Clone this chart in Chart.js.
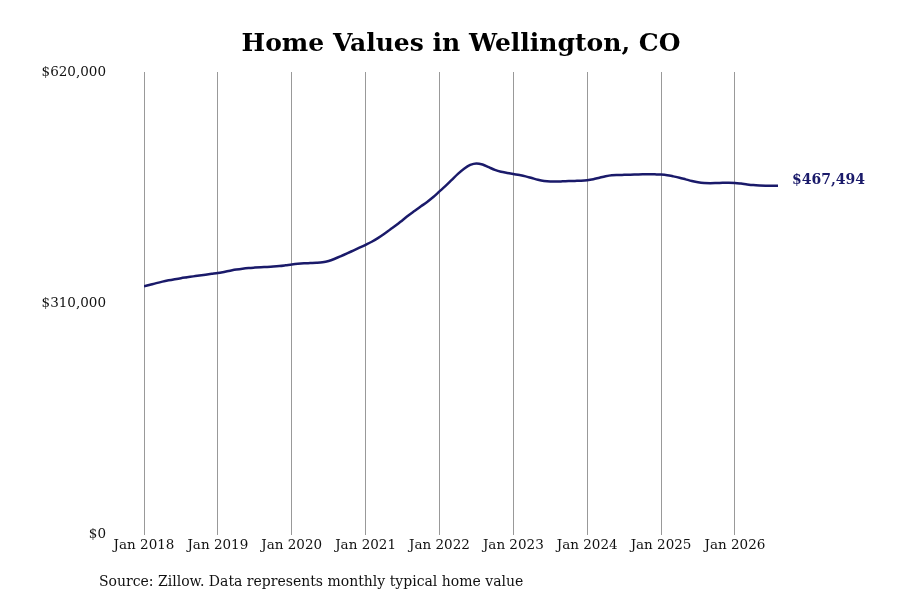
<!DOCTYPE html>
<html>
<head>
<meta charset="utf-8">
<script src="https://cdn.jsdelivr.net/npm/chart.js@4/dist/chart.umd.min.js"></script>
<style>
    html, body { margin: 0; padding: 0; background: #fff; }
    #wrap { width: 900px; height: 600px; }
</style>
</head>
<body>
<div id="wrap"><canvas id="homeValues"></canvas></div>
<script>
const title = 'Home Values in Wellington, CO';
const source = 'Source: Zillow. Data represents monthly typical home value';

// one tick per January, starting at month 0 = Jan 2018
const tickLabels = ['Jan 2018', 'Jan 2019', 'Jan 2020', 'Jan 2021', 'Jan 2022',
    'Jan 2023', 'Jan 2024', 'Jan 2025', 'Jan 2026'];
const yTicks = [0, 310000, 620000];

// monthly typical home value, Jan 2018 .. Aug 2026
const homeValues = [
    332800, 335000, 337200, 339200, 340900, 342400, 343800, 345000, 346200, 347400, 348500, 349600,
    350700, 352200, 353800, 355300, 356500, 357400, 358000, 358500, 358900, 359400, 360100, 361100,
    362200, 363100, 363700, 364000, 364300, 365000, 366800, 369800, 373300, 377000, 380800, 384600,
    388500, 392600, 397500, 403000, 409000, 415000, 421500, 428000, 434000, 440000, 446000, 452500,
    460000, 467500, 475500, 483500, 490500, 495500, 497500, 496000, 492500, 488800, 486300, 484800,
    483300, 481900, 480200, 477900, 475600, 474000, 473300, 473200, 473500, 473900, 474100, 474300,
    475000, 476400, 478400, 480300, 481600, 482000, 482200, 482400, 482700, 483000, 483100, 482900,
    482600, 481800, 480200, 478400, 476200, 474000, 472200, 471200, 471000, 471200, 471500, 471700,
    471400, 470500, 469400, 468500, 468000, 467700, 467550, 467494
];

const lineColor = '#1a1a6a';
const font = 'DejaVu Serif';

const money = v => '$' + Math.round(v).toLocaleString('en-US');

// last value label + source line
const annotations = {
    id: 'annotations',
    afterDatasetsDraw(chart) {
        const ctx = chart.ctx;
        const pts = chart.getDatasetMeta(0).data;
        const last = pts[pts.length - 1];
        ctx.save();
        ctx.font = 'bold 14px "' + font + '"';
        ctx.fillStyle = lineColor;
        ctx.textAlign = 'left';
        ctx.textBaseline = 'middle';
        ctx.fillText(money(homeValues[homeValues.length - 1]), last.x + 14, last.y - 5);

        ctx.font = '14px "' + font + '"';
        ctx.fillStyle = '#111';
        ctx.fillText(source, 99, 582);
        ctx.restore();
    }
};

new Chart(document.getElementById('homeValues'), {
    type: 'line',
    data: {
        datasets: [{
            data: homeValues.map((v, i) => ({ x: i, y: v })),
            borderColor: lineColor,
            borderWidth: 2.5,
            pointRadius: 0,
            cubicInterpolationMode: 'monotone',
            fill: false
        }]
    },
    options: {
        responsive: true,
        maintainAspectRatio: false,
        animation: false,
        layout: { padding: { top: 0, right: 122, bottom: 43, left: 0 } },
        plugins: {
            legend: { display: false },
            tooltip: { enabled: false },
            title: {
                display: true,
                text: title,
                fullSize: false,
                color: '#000',
                font: { family: font, size: 25, weight: 'bold' },
                padding: { top: 29, bottom: 13 }
            }
        },
        scales: {
            x: {
                type: 'linear',
                min: 0,
                max: homeValues.length - 1,
                grid: { color: '#999', lineWidth: 1, drawTicks: false },
                border: { display: false },
                ticks: {
                    stepSize: 12,
                    includeBounds: false,
                    autoSkip: false,
                    maxRotation: 0,
                    padding: 3,
                    color: '#111',
                    font: { family: font, size: 13.5 },
                    callback: v => tickLabels[v / 12]
                }
            },
            y: {
                min: 0,
                max: 620000,
                afterBuildTicks: scale => { scale.ticks = yTicks.map(v => ({ value: v })); },
                afterFit: scale => { scale.width = 144; },
                grid: { display: false, drawTicks: false },
                border: { display: false },
                ticks: {
                    padding: 38,
                    color: '#111',
                    font: { family: font, size: 13.5 },
                    callback: v => money(v)
                }
            }
        }
    },
    plugins: [annotations]
});
</script>
</body>
</html>
